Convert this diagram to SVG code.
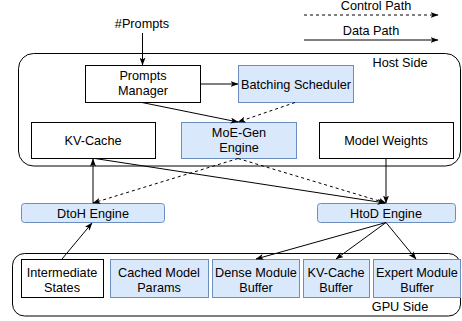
<svg xmlns="http://www.w3.org/2000/svg" width="462" height="321" viewBox="0 0 462 321">
<defs>
<marker id="arr" viewBox="0 0 8 6" refX="7.5" refY="3" markerWidth="8" markerHeight="6" orient="auto" markerUnits="userSpaceOnUse">
<path d="M0,0 L8,3 L0,6 L2,3 z" fill="#000"/>
</marker>
<style>
text{font-family:"Liberation Sans",Arial,sans-serif;font-size:12.7px;fill:#000;text-anchor:middle}
.w{fill:#fff;stroke:#000;stroke-width:1}
.b{fill:#dae8fc;stroke:#6c8ebf;stroke-width:1}
.c{fill:none;stroke:#000;stroke-width:1}
.s{fill:none;stroke:#000;stroke-width:1;marker-end:url(#arr)}
.d{fill:none;stroke:#000;stroke-width:1;stroke-dasharray:3 3;marker-end:url(#arr)}
</style>
</defs>
<rect width="462" height="321" fill="#fff"/>
<g id="legend">
<text x="376" y="10">Control Path</text>
<line class="d" x1="304" y1="15" x2="438" y2="15"/>
<text x="371" y="35">Data Path</text>
<line class="s" x1="304" y1="40" x2="438" y2="40"/>
</g>
<g id="host-side">
<rect class="c" x="18.5" y="53.5" width="442" height="112.5" rx="15"/>
<text x="400" y="67">Host Side</text>
</g>
<g id="gpu-side">
<rect class="c" x="12.5" y="253.5" width="448" height="62.5" rx="12"/>
<text x="400" y="311">GPU Side</text>
</g>
<g id="prompts-label"><text x="142" y="28">#Prompts</text></g>
<g id="prompts-manager">
<rect class="w" x="85.5" y="65.5" width="115" height="37"/>
<text x="143" y="79.5">Prompts</text>
<text x="143" y="94.5">Manager</text>
</g>
<g id="batching-scheduler">
<rect class="b" x="238.5" y="65.5" width="115" height="37"/>
<text x="296" y="88.5">Batching Scheduler</text>
</g>
<g id="kv-cache">
<rect class="w" x="31.5" y="122.5" width="124" height="36"/>
<text x="93" y="144.5">KV-Cache</text>
</g>
<g id="moe-gen-engine">
<rect class="b" x="181.5" y="122.5" width="115" height="36"/>
<text x="239" y="137">MoE-Gen</text>
<text x="239" y="152">Engine</text>
</g>
<g id="model-weights">
<rect class="w" x="319.5" y="122.5" width="134" height="36"/>
<text x="386" y="144.5">Model Weights</text>
</g>
<g id="dtoh-engine">
<rect class="b" x="21.5" y="203.5" width="143" height="19" rx="3"/>
<text x="93" y="217.5">DtoH Engine</text>
</g>
<g id="htod-engine">
<rect class="b" x="317.5" y="203.5" width="138" height="19" rx="3"/>
<text x="386" y="217.5">HtoD Engine</text>
</g>
<g id="intermediate-states">
<rect class="w" x="21.5" y="259.5" width="82" height="38"/>
<text x="62" y="277">Intermediate</text>
<text x="62" y="292">States</text>
</g>
<g id="cached-model-params">
<rect class="b" x="110.5" y="259.5" width="98" height="38"/>
<text x="159" y="277">Cached Model</text>
<text x="159" y="292">Params</text>
</g>
<g id="dense-module-buffer">
<rect class="b" x="212.5" y="259.5" width="87" height="38"/>
<text x="256" y="277">Dense Module</text>
<text x="256" y="292">Buffer</text>
</g>
<g id="kv-cache-buffer">
<rect class="b" x="303.5" y="259.5" width="66" height="38"/>
<text x="336" y="277">KV-Cache</text>
<text x="336" y="292">Buffer</text>
</g>
<g id="expert-module-buffer">
<rect class="b" x="373.5" y="259.5" width="87" height="38"/>
<text x="417" y="277">Expert Module</text>
<text x="417" y="292">Buffer</text>
</g>
<g id="connectors">
<line class="s" x1="142.5" y1="33" x2="142.5" y2="65"/>
<line class="s" x1="200.5" y1="84" x2="238" y2="84"/>
<line class="s" x1="142" y1="102.5" x2="238" y2="122"/>
<line class="d" x1="295" y1="102.5" x2="238" y2="122"/>
<line class="s" x1="93" y1="203" x2="93" y2="159"/>
<line class="s" x1="95" y1="158.5" x2="385" y2="203"/>
<line class="s" x1="386" y1="158.5" x2="386" y2="203"/>
<line class="d" x1="238" y1="158.5" x2="93" y2="203"/>
<line class="d" x1="238" y1="158.5" x2="386" y2="203"/>
<line class="s" x1="62" y1="259" x2="92" y2="223"/>
<line class="s" x1="386" y1="222.5" x2="256" y2="259"/>
<line class="s" x1="386" y1="222.5" x2="336" y2="259"/>
<line class="s" x1="386" y1="222.5" x2="416" y2="259"/>
</g>
</svg>
